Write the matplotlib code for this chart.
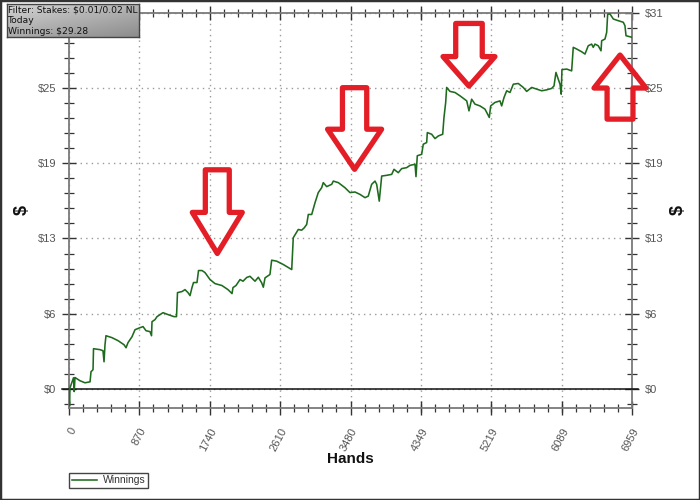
import numpy as np
import matplotlib
matplotlib.use('Agg')
import matplotlib.pyplot as plt
from matplotlib.ticker import FixedLocator, AutoMinorLocator, FixedFormatter
from matplotlib.patches import Rectangle, Polygon
from matplotlib.colors import LinearSegmentedColormap

# ---------------- data ----------------
hands = [0, 6, 12, 56, 64, 74, 136, 198, 260, 272, 297, 303, 383, 420, 433, 445, 457,
         531, 606, 680, 705, 729, 779, 816, 878, 915, 952, 1001, 1020, 1026, 1063, 1088,
         1162, 1224, 1298, 1329, 1341, 1397, 1434, 1471, 1496, 1520, 1539, 1582, 1601,
         1644, 1681, 1743, 1805, 1891, 1965, 2015, 2027, 2064, 2114, 2151, 2196, 2237,
         2299, 2340, 2382, 2402, 2423, 2484, 2505, 2567, 2649, 2753, 2772, 2834, 2876,
         2908, 2938, 2958, 3000, 3041, 3081, 3123, 3143, 3185, 3247, 3267, 3329, 3411,
         3473, 3535, 3597, 3659, 3699, 3741, 3782, 3803, 3835, 3865, 3927, 3989, 4017,
         4070, 4112, 4174, 4215, 4277, 4289, 4305, 4359, 4379, 4421, 4429, 4483, 4524,
         4565, 4619, 4635, 4656, 4668, 4709, 4771, 4833, 4916, 4944, 4977, 5018, 5080,
         5142, 5195, 5212, 5265, 5327, 5348, 5377, 5410, 5451, 5492, 5553, 5615, 5657,
         5719, 5781, 5843, 5904, 5966, 5995, 6019, 6048, 6069, 6084, 6093, 6152, 6213,
         6233, 6275, 6337, 6378, 6418, 6460, 6480, 6501, 6542, 6576, 6584, 6625, 6646,
         6658, 6687, 6728, 6789, 6851, 6872, 6885, 6955]
winnings = [0.0, -1.42, 0.08, 0.92, -0.23, 0.94, 0.67, 0.50, 0.58, 1.42, 1.59, 3.34, 3.26,
            3.17, 2.25, 3.67, 4.42, 4.26, 4.01, 3.67, 3.42, 3.84, 4.34, 4.92, 5.09, 5.18,
            4.84, 4.76, 4.42, 5.59, 5.76, 6.01, 6.34, 6.18, 6.01, 6.01, 8.01, 8.10, 8.26,
            8.01, 7.76, 8.43, 8.85, 8.85, 9.85, 9.85, 9.68, 9.10, 8.76, 8.60, 8.26, 7.93,
            8.43, 8.60, 9.10, 8.96, 9.27, 9.37, 8.96, 9.29, 8.82, 8.46, 9.24, 9.52, 10.71,
            10.63, 10.35, 9.93, 12.58, 13.27, 13.21, 13.41, 13.69, 14.52, 14.52, 15.50,
            16.34, 16.75, 17.17, 16.84, 17.03, 17.30, 17.17, 16.75, 16.34, 16.39, 16.19,
            15.92, 16.05, 17.03, 17.30, 17.03, 15.63, 17.72, 17.78, 17.86, 18.28, 18.00,
            18.34, 18.42, 18.61, 18.70, 17.67, 19.41, 19.53, 20.37, 20.51, 21.34, 21.20,
            20.84, 21.06, 21.20, 22.60, 23.85, 25.10, 24.77, 24.68, 24.40, 23.98, 23.15,
            24.12, 23.71, 23.56, 23.29, 22.60, 23.56, 23.85, 23.98, 23.56, 24.26, 24.82,
            24.68, 25.37, 25.43, 25.10, 24.77, 25.10, 24.96, 24.82, 24.90, 25.02, 25.23,
            26.35, 25.79, 25.37, 24.54, 26.58, 26.63, 26.48, 28.44, 28.30, 28.07, 27.88,
            28.57, 28.71, 28.44, 28.71, 28.57, 28.15, 28.99, 29.13, 29.69, 31.20, 31.22,
            30.80, 30.66, 30.53, 30.24, 29.41, 29.28]

x_ticks = [0, 870, 1740, 2610, 3480, 4349, 5219, 6089, 6959]
x_tick_labels = ['0', '870', '1740', '2610', '3480', '4349', '5219', '6089', '6959']
y_ticks = [0, 6.26, 12.52, 18.78, 25.04, 31.3]
y_tick_labels = ['$0', '$6', '$13', '$19', '$25', '$31']
y_min, y_max = -1.6, 31.3
series_name = 'Winnings'
x_label = 'Hands'
y_label = '$'
filter_lines = ['Filter: Stakes: $0.01/0.02 NL', 'Today', 'Winnings: $29.28']

# annotation arrows: tip hands, tip $, direction (+1 up, -1 down),
# total length ($), head length ($), head half-width (hands), shaft half-width (hands)
arrow_tip_x = [1833, 3530, 4944, 6811]
arrow_tip_y = [11.27, 18.28, 25.21, 27.80]
arrow_dir = [-1, -1, -1, 1]
arrow_len = [6.97, 6.80, 5.22, 5.34]
arrow_head = [3.42, 3.34, 2.46, 2.75]
arrow_hw = [309, 334, 321, 321]
arrow_sw = [148, 150, 164, 160]

# ---------------- figure ----------------
plt.rcParams['font.family'] = ['Liberation Sans', 'DejaVu Sans']
fig = plt.figure(figsize=(7, 5), dpi=100)
fig.patch.set_facecolor('white')

L, R, B, T = 69 / 700, 632 / 700, 1 - 408 / 500, 1 - 13 / 500
ax = fig.add_axes([L, B, R - L, T - B])
ax.set_facecolor('white')

line, = ax.plot(hands, winnings, color='#1e6b1e', lw=1.15, zorder=4)

ax.set_xlim(0, 6959)
ax.set_ylim(y_min, y_max)

ax.xaxis.set_major_locator(FixedLocator(x_ticks))
ax.xaxis.set_major_formatter(FixedFormatter(x_tick_labels))
ax.xaxis.set_minor_locator(AutoMinorLocator(5))
ax.yaxis.set_major_locator(FixedLocator(y_ticks))
ax.yaxis.set_major_formatter(FixedFormatter(y_tick_labels))
ax.yaxis.set_minor_locator(AutoMinorLocator(5))

for sp in ax.spines.values():
    sp.set_color('#7a7a7a')
    sp.set_linewidth(1.3)

ax.tick_params(axis='y', which='major', direction='inout', length=10, width=1.0,
               color='#333333', labelsize=8, labelcolor='#555555', pad=4,
               left=True, right=True, labelleft=True, labelright=True)
ax.tick_params(axis='y', which='minor', direction='inout', length=7, width=0.9,
               color='#333333', left=True, right=True)
ax.tick_params(axis='x', which='major', direction='inout', length=10, width=1.0,
               color='#333333', labelsize=8, labelcolor='#555555', pad=8,
               bottom=True, top=True)
ax.tick_params(axis='x', which='minor', direction='inout', length=6, width=0.9,
               color='#333333', bottom=True, top=True)

# the left "$31" label is hidden behind the filter box in the reference
ax.yaxis.get_major_ticks()[-1].label1.set_visible(False)

for lbl in ax.get_xticklabels():
    lbl.set_rotation(62)
    lbl.set_ha('right')
    lbl.set_va('top')
    lbl.set_rotation_mode('anchor')

ax.grid(True, which='major', color='#9a9a9a', linestyle=(0, (1, 3)), linewidth=1.0, zorder=1)
ax.axhline(0, xmin=-0.012, xmax=1.01, color='#111111', lw=1.1, zorder=3, clip_on=False)

# arrows
for tx, ty, d, ln, hl, hw, sw in zip(arrow_tip_x, arrow_tip_y, arrow_dir, arrow_len,
                                      arrow_head, arrow_hw, arrow_sw):
    yb = ty - d * hl
    ye = ty - d * ln
    pts = [(tx, ty), (tx + hw, yb), (tx + sw, yb), (tx + sw, ye), (tx - sw, ye),
           (tx - sw, yb), (tx - hw, yb)]
    poly = Polygon(pts, closed=True, fill=False, edgecolor='#e31e27', lw=3.8,
                   joinstyle='round', zorder=6, clip_on=False)
    ax.add_patch(poly)

# axis labels
fig.text(350 / 700, 1 - 459 / 500, x_label, ha='center', va='center',
         fontsize=11, fontweight='bold', color='#111111')
fig.text(22 / 700, 1 - 210 / 500, y_label, ha='center', va='center', rotation=90,
         fontsize=13, fontweight='bold', color='#111111')
fig.text(678 / 700, 1 - 210 / 500, y_label, ha='center', va='center', rotation=90,
         fontsize=13, fontweight='bold', color='#111111')

# legend
leg = fig.legend([line], [series_name], loc='lower left',
                 bbox_to_anchor=(69 / 700, 12 / 500), frameon=True, fancybox=False,
                 edgecolor='#444444', framealpha=1, fontsize=7.5, handlelength=2.4,
                 borderpad=0.25, borderaxespad=0, handletextpad=0.6)
leg.get_frame().set_linewidth(1.0)
for t in leg.get_texts():
    t.set_color('#333333')

# filter box with gradient
bx = fig.add_axes([7 / 700, 1 - 37 / 500, 132 / 700, 33 / 500])
gx = np.linspace(0, 1, 200)
gy = np.linspace(0, 1, 40)
G = 0.55 * gy[:, None] + 0.45 * gx[None, :]
bx.imshow(G, cmap=LinearSegmentedColormap.from_list('g', ['#d4d4d4', '#8c8c8c']),
          aspect='auto', extent=(0, 1, 0, 1), origin='upper')
bx.set_xticks([])
bx.set_yticks([])
for sp in bx.spines.values():
    sp.set_color('#444444')
    sp.set_linewidth(1.0)
for i, s in enumerate(filter_lines):
    fig.text(8 / 700, 1 - (10 + 10.6 * i) / 500, s, ha='left', va='center',
             fontsize=6.6, color='#111111', family=['DejaVu Sans'])

# outer frame
fig.patches.append(Rectangle((0, 0), 1, 1, transform=fig.transFigure, fill=False,
                             edgecolor='#333333', lw=2.5, zorder=10))

fig.savefig('out.png', dpi=100)
